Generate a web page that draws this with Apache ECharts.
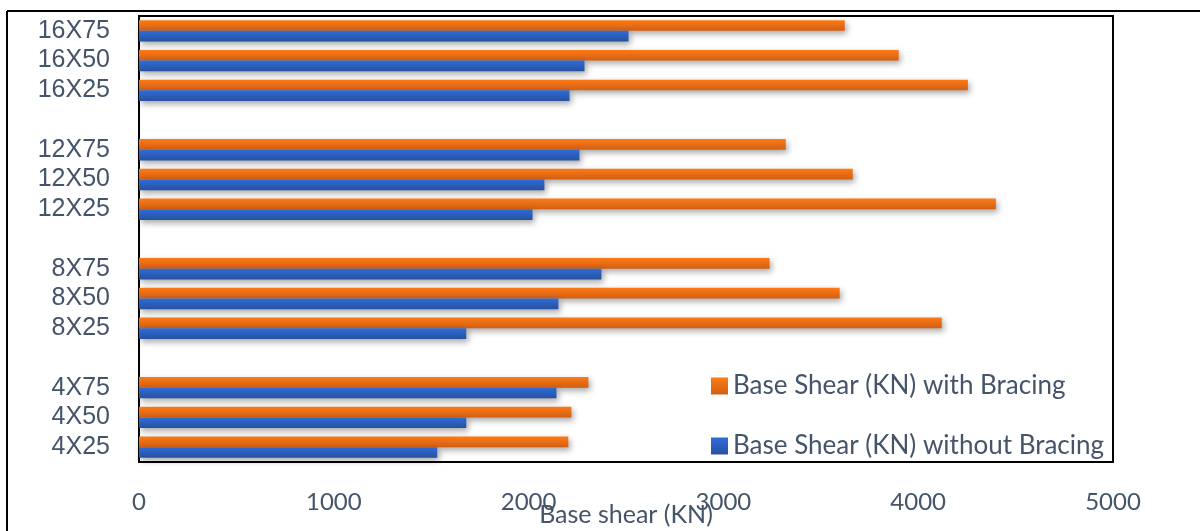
<!DOCTYPE html>
<html>
<head>
<meta charset="utf-8">
<title>Base shear with and without bracing</title>
<script src="https://cdn.jsdelivr.net/npm/echarts@6/dist/echarts.min.js"></script>
<style>
  html, body { margin: 0; padding: 0; background: #fff; }
  #chart { width: 1200px; height: 531px; }
</style>
</head>
<body>
<div id="chart"></div>
<script>
// Building models, listed bottom to top; blank entries separate the groups
const categories = ['4X25', '4X50', '4X75', '', '8X25', '8X50', '8X75', ' ',
                    '12X25', '12X50', '12X75', '  ', '16X25', '16X50', '16X75'];

// Base shear (kN)
const withoutBracing = [1531, 1680, 2143, null, 1680, 2153, 2374, null,
                        2020, 2081, 2261, null, 2210, 2287, 2513];
const withBracing = [2204, 2220, 2307, null, 4121, 3597, 3237, null,
                     4399, 3664, 3320, null, 4255, 3900, 3623];

const xTicks = { min: 0, max: 5000, interval: 1000 };

const nameWith = 'Base Shear (KN) with Bracing';
const nameWithout = 'Base Shear (KN) without Bracing';

const textColor = '#44546A';
const uiFont = 'Lato, Open Sans, sans-serif';

function grad(top, bottom) {
  return new echarts.graphic.LinearGradient(0, 0, 0, 1, [
    { offset: 0, color: top },
    { offset: 1, color: bottom }
  ]);
}

const barShadow = {
  shadowColor: 'rgba(0,0,0,0.35)',
  shadowBlur: 6,
  shadowOffsetX: 2,
  shadowOffsetY: 3
};

const chart = echarts.init(document.getElementById('chart'), null, { renderer: 'canvas' });

chart.setOption({
  backgroundColor: '#fff',
  animation: false,
  grid: {
    left: 139, right: 87, top: 16, bottom: 69,
    containLabel: false,
    outerBoundsMode: 'none',
    show: true, borderColor: '#000', borderWidth: 2, backgroundColor: 'transparent'
  },
  graphic: [
    { type: 'line', shape: { x1: 7, y1: 11, x2: 1200, y2: 11 }, style: { stroke: '#000', lineWidth: 2 } },
    { type: 'line', shape: { x1: 7, y1: 11, x2: 7, y2: 531 }, style: { stroke: '#000', lineWidth: 2 } }
  ],
  legend: {
    orient: 'vertical',
    left: 706,
    top: 368,
    data: [nameWith, nameWithout],
    icon: 'rect',
    itemWidth: 17,
    itemHeight: 17,
    itemGap: 34,
    textStyle: { color: textColor, fontSize: 26, fontFamily: uiFont }
  },
  xAxis: {
    type: 'value',
    min: xTicks.min,
    max: xTicks.max,
    interval: xTicks.interval,
    name: 'Base shear (KN)',
    nameLocation: 'middle',
    nameGap: 40,
    nameMoveOverlap: false,
    nameTextStyle: { color: textColor, fontSize: 25, fontFamily: uiFont },
    axisLine: { show: false },
    axisTick: { show: false },
    splitLine: { show: false },
    axisLabel: {
      color: textColor, fontSize: 24, margin: 28, fontFamily: uiFont,
      formatter: v => String(v)
    }
  },
  yAxis: {
    type: 'category',
    data: categories,
    axisLine: { show: false },
    axisTick: { show: false },
    axisLabel: {
      interval: 0, color: textColor, fontSize: 25, margin: 29,
      fontFamily: 'Liberation Sans, Arial, sans-serif'
    }
  },
  series: [
    {
      name: nameWith,
      type: 'bar',
      data: withBracing,
      barGap: '0%',
      barCategoryGap: '28%',
      itemStyle: Object.assign({ color: grad('#FF7A14', '#D05F14') }, barShadow)
    },
    {
      name: nameWithout,
      type: 'bar',
      data: withoutBracing,
      barGap: '0%',
      barCategoryGap: '28%',
      itemStyle: Object.assign({ color: grad('#2F6CD8', '#27519F') }, barShadow)
    }
  ]
});
</script>
</body>
</html>
